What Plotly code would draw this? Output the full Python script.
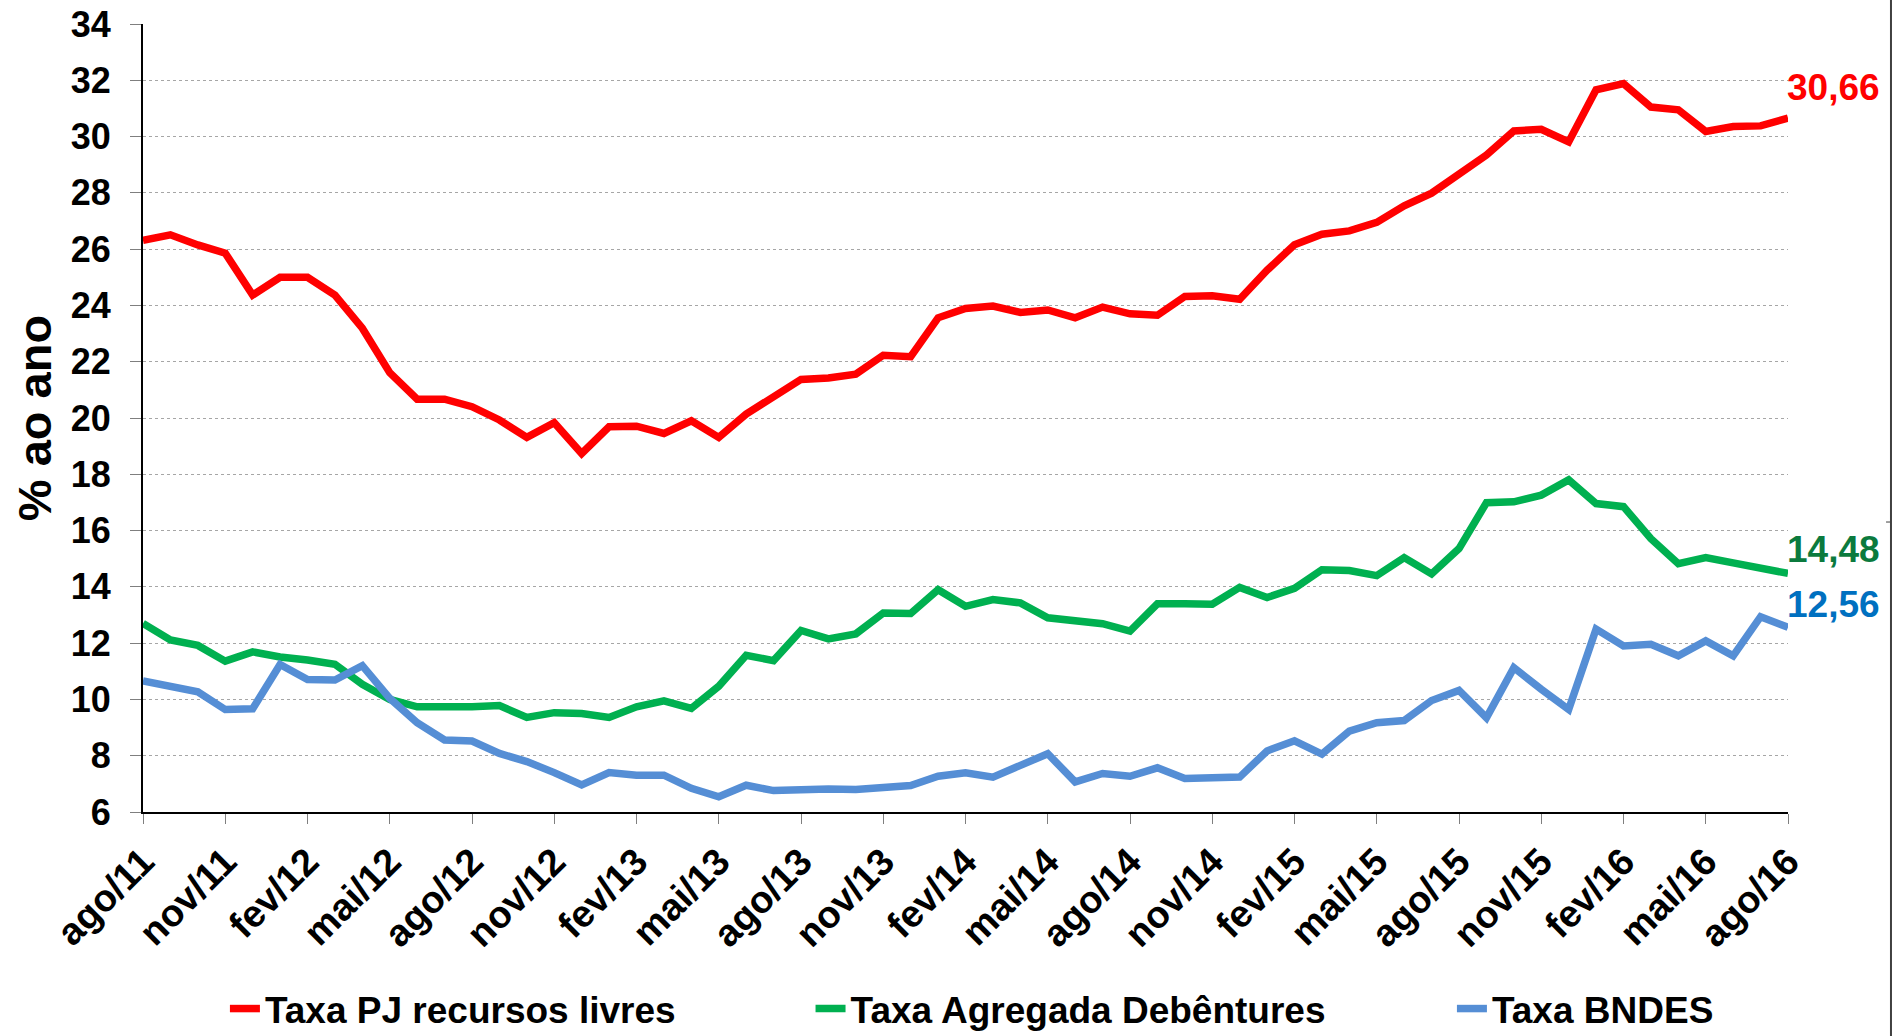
import plotly.graph_objects as go

categories = [
    "ago/11", "set/11", "out/11", "nov/11", "dez/11", "jan/12", "fev/12", "mar/12", "abr/12", "mai/12",
    "jun/12", "jul/12", "ago/12", "set/12", "out/12", "nov/12", "dez/12", "jan/13", "fev/13", "mar/13",
    "abr/13", "mai/13", "jun/13", "jul/13", "ago/13", "set/13", "out/13", "nov/13", "dez/13", "jan/14",
    "fev/14", "mar/14", "abr/14", "mai/14", "jun/14", "jul/14", "ago/14", "set/14", "out/14", "nov/14",
    "dez/14", "jan/15", "fev/15", "mar/15", "abr/15", "mai/15", "jun/15", "jul/15", "ago/15", "set/15",
    "out/15", "nov/15", "dez/15", "jan/16", "fev/16", "mar/16", "abr/16", "mai/16", "jun/16", "jul/16",
    "ago/16",
]

taxa_pj = [
    26.31, 26.51, 26.15, 25.86, 24.37, 25.00, 25.00, 24.37, 23.19, 21.61,
    20.67, 20.67, 20.40, 19.93, 19.31, 19.83, 18.74, 19.69, 19.71, 19.45,
    19.90, 19.31, 20.14, 20.78, 21.37, 21.42, 21.56, 22.23, 22.18, 23.56,
    23.89, 23.98, 23.75, 23.84, 23.56, 23.94, 23.70, 23.65, 24.32, 24.34,
    24.22, 25.25, 26.16, 26.53, 26.65, 26.95, 27.54, 27.99, 28.66, 29.34,
    30.20, 30.26, 29.81, 31.66, 31.88, 31.05, 30.95, 30.18, 30.36, 30.38,
    30.66,
]

taxa_debentures = [
    12.70, 12.11, 11.92, 11.36, 11.69, 11.51, 11.40, 11.25, 10.54, 10.00,
    9.74, 9.72, 9.74, 9.78, 9.36, 9.53, 9.50, 9.36, 9.74, 9.95,
    9.68, 10.47, 11.57, 11.38, 12.45, 12.15, 12.33, 13.07, 13.05, 13.90,
    13.31, 13.55, 13.43, 12.90, 12.77, 12.69, 12.43, 13.40, 13.40, 13.38,
    13.98, 13.62, 13.95, 14.61, 14.58, 14.40, 15.04, 14.46, 15.36, 16.99,
    17.02, 17.26, 17.80, 16.96, 16.85, 15.71, 14.82, 15.04, 14.85, 14.68,
    14.48,
]

taxa_bndes = [
    10.66, 10.47, 10.27, 9.64, 9.67, 11.24, 10.71, 10.69, 11.20, 10.04,
    9.17, 8.56, 8.52, 8.08, 7.79, 7.40, 6.96, 7.40, 7.31, 7.31,
    6.84, 6.54, 6.95, 6.76, 6.80, 6.82, 6.80, 6.88, 6.94, 7.27,
    7.39, 7.24, 7.69, 8.07, 7.07, 7.37, 7.27, 7.57, 7.19, 7.24,
    7.24, 8.17, 8.53, 8.06, 8.87, 9.17, 9.25, 9.96, 10.32, 9.35,
    11.13, 10.36, 9.64, 12.50, 11.90, 11.96, 11.55, 12.08, 11.55, 12.94,
    12.56,
]

series_names = ["Taxa PJ recursos livres", "Taxa Agregada Debêntures", "Taxa BNDES"]
series_values = [taxa_pj, taxa_debentures, taxa_bndes]
line_colors = ["#FF0000", "#00B050", "#558ED5"]
label_colors = ["#FF0000", "#0B7A3E", "#0070C0"]
end_labels = ["30,66", "14,48", "12,56"]
label_yshift = [31, 24, 23]
legend_ids = ["legend", "legend2", "legend3"]
legend_x = [0.0498, 0.4058, 0.7957]

tick_labels = categories[::3]

FONT = "Liberation Sans, Arial, sans-serif"

fig = go.Figure()
for name, vals, col, lg in zip(series_names, series_values, line_colors, legend_ids):
    fig.add_trace(go.Scatter(
        x=categories, y=vals, mode="lines", name=name,
        line=dict(color=col, width=7.5), legend=lg,
    ))

for vals, txt, col, ys in zip(series_values, end_labels, label_colors, label_yshift):
    fig.add_annotation(
        x=categories[-1], y=vals[-1], text=txt, showarrow=False,
        xanchor="left", yanchor="middle", xshift=-3, yshift=ys,
        font=dict(family=FONT, size=37, color=col, weight="bold"),
    )

legend_common = dict(
    orientation="h", y=-0.250, yanchor="middle", xanchor="left",
    bgcolor="rgba(0,0,0,0)",
    font=dict(family=FONT, size=37, color="black", weight="bold"),
)

fig.update_layout(
    width=1901, height=1036,
    margin=dict(l=143, r=113, t=24, b=224, autoexpand=False),
    paper_bgcolor="white", plot_bgcolor="white",
    font=dict(family=FONT, size=36, color="black", weight="bold"),
    legend=dict(x=legend_x[0], **legend_common),
    legend2=dict(x=legend_x[1], **legend_common),
    legend3=dict(x=legend_x[2], **legend_common),
    xaxis=dict(
        type="category", range=[0, len(categories) - 1], automargin=False,
        tickmode="array", tickvals=tick_labels, ticktext=tick_labels,
        tickangle=-45, ticks="outside", ticklen=10, tickcolor="#7F7F7F", tickwidth=1,
        showline=True, linecolor="black", linewidth=2, showgrid=False,
        tickfont=dict(family=FONT, size=38, color="black", weight="bold"),
    ),
    yaxis=dict(
        range=[6, 34], tick0=0, dtick=2, automargin=False,
        ticks="outside", ticklen=11, tickcolor="#7F7F7F", tickwidth=1,
        ticklabelstandoff=12,
        showline=True, linecolor="black", linewidth=2,
        showgrid=True, gridcolor="#A6A6A6", gridwidth=1, griddash="dot",
        zeroline=False,
        tickfont=dict(family=FONT, size=36, color="black", weight="bold"),
        title=dict(text="% ao ano", standoff=4,
                   font=dict(family=FONT, size=47, color="black", weight="bold")),
    ),
    showlegend=True,
)

# frame edge at the right of the picture
fig.add_shape(type="line", xref="paper", yref="paper",
              x0=1.0626, x1=1.0626, y0=-0.2843, y1=1.0305,
              line=dict(color="#404040", width=2))
fig.add_shape(type="line", xref="paper", yref="paper",
              x0=1.0596, x1=1.0626, y0=0.368, y1=0.368,
              line=dict(color="#404040", width=1))

fig.write_html("out.html", config={"displayModeBar": False},
               post_script="document.body.style.margin='0';")
